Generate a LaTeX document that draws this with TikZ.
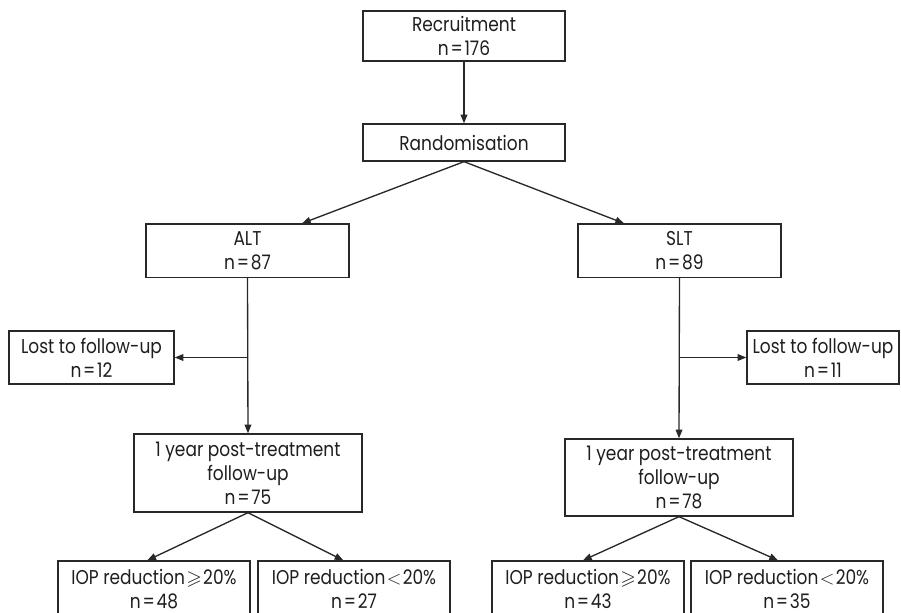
\documentclass[tikz,border=0pt]{standalone}
\usepackage{amssymb}
\usepackage{fontspec}
\setmainfont[FakeStretch=0.85]{Poppins}
\usetikzlibrary{arrows.meta}
\definecolor{linec}{RGB}{40,40,40}
\definecolor{txtc}{RGB}{30,30,30}
\newcommand{\eqq}{\kern1.3pt=\kern1.3pt}
\tikzset{
  box/.style={draw=linec, line width=1pt, align=center, inner sep=0pt,
              font=\fontsize{15}{18}\selectfont, text=txtc},
  arr/.style={draw=linec, line width=1pt, -{Triangle[length=6.5pt,width=5pt]}},
  ln/.style={draw=linec, line width=1pt}
}
\begin{document}
\begin{tikzpicture}[x=0.75pt,y=-0.75pt]
\path[use as bounding box] (0,0) rectangle (901,613);
\clip (0,0) rectangle (901,613);
\node[box, minimum width=151.5pt, minimum height=37.5pt] (rec) at (464,36) {Recruitment\\n\eqq176};
\node[box, minimum width=151.5pt, minimum height=27.75pt] (rand) at (464,142.5) {Randomisation};
\node[box, minimum width=152.25pt, minimum height=40.1pt] (alt) at (247.5,250.75) {ALT\\n\eqq87};
\node[box, minimum width=152.25pt, minimum height=40.1pt] (slt) at (679.5,250.75) {SLT\\n\eqq89};
\node[box, minimum width=123.75pt, minimum height=39.75pt] (lostL) at (91.5,357.5) {Lost to follow-up\\n\eqq12};
\node[box, minimum width=114pt, minimum height=39.75pt] (lostR) at (823,357.5) {Lost to follow-up\\n\eqq11};
\node[box, minimum width=171pt, minimum height=58.5pt] (fuL) at (248,473) {1 year post-treatment\\follow-up\\n\eqq75};
\node[box, minimum width=171pt, minimum height=57.75pt] (fuR) at (679,477.5) {1 year post-treatment\\follow-up\\n\eqq78};
\node[box, minimum width=144pt, minimum height=42pt] (b1) at (154,589) {IOP reduction\kern1pt$\geqslant$\kern1pt20\%\\n\eqq48};
\node[box, minimum width=144pt, minimum height=42pt] (b2) at (354,589) {IOP reduction\kern1pt$<$\kern1pt20\%\\n\eqq27};
\node[box, minimum width=144pt, minimum height=42pt] (b3) at (588,589) {IOP reduction\kern1pt$\geqslant$\kern1pt20\%\\n\eqq43};
\node[box, minimum width=144pt, minimum height=42pt] (b4) at (787,589) {IOP reduction\kern1pt$<$\kern1pt20\%\\n\eqq35};
\coordinate (jL) at (alt.south |- lostL.east);
\coordinate (jR) at (slt.south |- lostR.west);
\draw[arr] (rec.south) -- (rand.north);
\draw[arr] (rand.south) -- ([xshift=40.9pt]alt.north);
\draw[arr] (rand.south) -- ([xshift=-41.6pt]slt.north);
\draw[arr] (alt.south) -- (fuL.north);
\draw[arr] (slt.south) -- (fuR.north);
\draw[arr] (jL) -- (lostL.east);
\draw[arr] (jR) -- (lostR.west);
\draw[arr] (fuL.south) -- ([xshift=-5pt]b1.north);
\draw[arr] (fuL.south) -- ([xshift=-8pt]b2.north);
\draw[arr] (fuR.south) -- ([xshift=-3.75pt]b3.north);
\draw[arr] (fuR.south) -- ([xshift=-6.75pt]b4.north);
\end{tikzpicture}
\end{document}
